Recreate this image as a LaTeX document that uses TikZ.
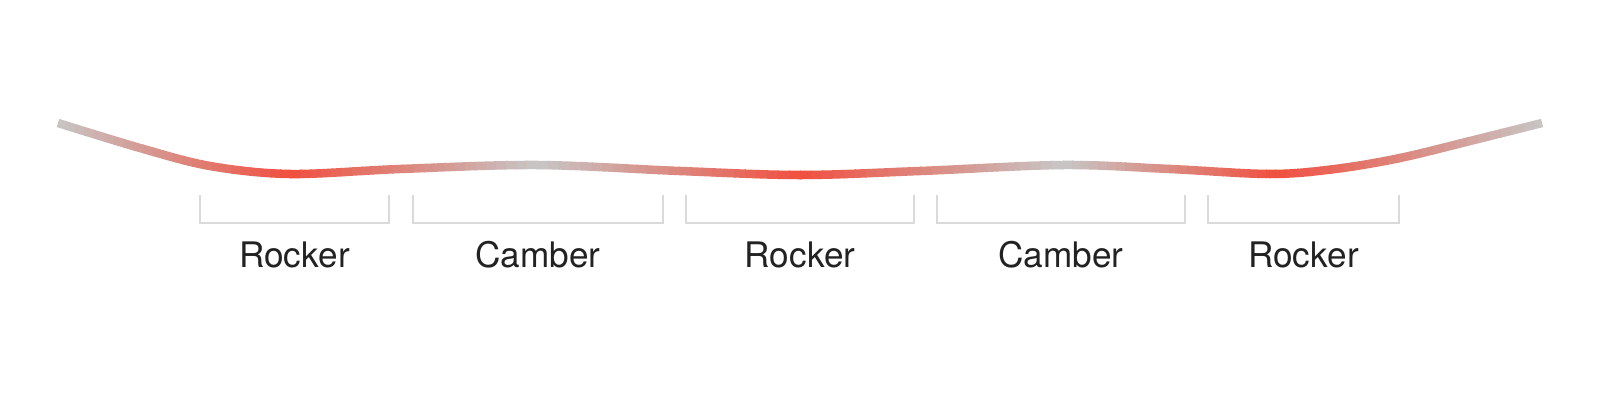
\documentclass[tikz,border=0pt]{standalone}
\usepackage{fontspec}
\setmainfont{TeX Gyre Heros}
\usepackage{tikz}
\usetikzlibrary{positioning}
\definecolor{boardgray}{RGB}{198,198,198}
\definecolor{boardred}{RGB}{241,78,62}
\definecolor{bracketgray}{RGB}{218,218,218}
\definecolor{labeltext}{RGB}{34,34,34}
\tikzset{
	board/.style={line width=0.085cm, line cap=butt},
	bracket/.style={draw=bracketgray, line width=0.02cm},
	zonelabel/.style={anchor=base, text=labeltext, inner sep=0pt, font=\fontsize{10}{12}\selectfont},
}
\newcommand{\boardcurve}{plot[smooth, tension=0.55] coordinates {(58,123) (140,148) (210,166) (290,174) (400,169) (537,165) (680,171) (800,175) (920,171) (1063,165) (1170,169) (1270,174) (1335,169) (1400,158) (1470,141) (1542,123)}}

\begin{document}
\begin{tikzpicture}[x=0.01cm, y=-0.01cm]
	\fill[white] (0,0) rectangle (1600,400);
	\useasboundingbox (0,0) rectangle (1600,400);
	% board profile, coloured slice by slice
	\foreach \xa/\xb/\pa/\pb in {55/290/0/100, 290/537/100/0, 537/800/0/100, 800/1063/100/0, 1063/1275/0/100, 1275/1546/100/0} {
		\foreach \i in {0,...,23} {
			\pgfmathsetmacro\xl{\xa+(\xb-\xa)*\i/24}
			\pgfmathsetmacro\xr{\xa+(\xb-\xa)*(\i+1)/24+1}
			\pgfmathtruncatemacro\pc{\pa+(\pb-\pa)*(\i+0.5)/24}
			\begin{scope}
				\clip (\xl,90) rectangle (\xr,210);
				\draw[board, draw=boardred!\pc!boardgray] \boardcurve;
			\end{scope}
		}
	}
	% zones
	\foreach \name/\xa/\xb/\txt in {rockerA/200/389/Rocker, camberA/413/663/Camber, rockerB/686/914/Rocker, camberB/937/1185/Camber, rockerC/1208/1399/Rocker} {
		\draw[bracket] (\xa,195) |- (\xb,223) -- (\xb,195);
		\node[zonelabel] (\name) at ({(\xa+\xb)/2},267) {\txt};
	}
\end{tikzpicture}
\end{document}
